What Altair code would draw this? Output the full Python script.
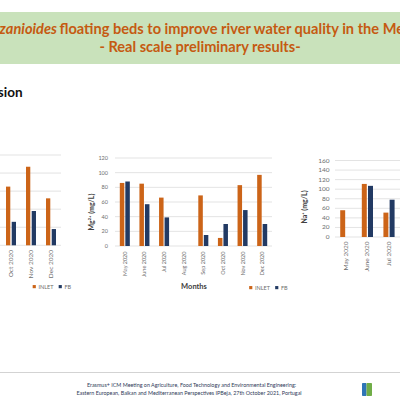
import altair as alt
import pandas as pd

FONT = "Lato"
ORANGE = "#cc6418"
NAVY = "#223a63"
GRID = "#d9d9d9"
TICK = "#6e6e6e"
DARK = "#404040"
BAND = "#c9e2bb"
HEAD = "#c55a11"

months = ["May 2020", "June 2020", "Jul 2020", "Aug 2020",
          "Sep 2020", "Oct 2020", "Nov 2020", "Dec 2020"]
series = ["INLET", "FB"]

# left panel: the last three months are the ones in view
left_months = ["Oct 2020", "Nov 2020", "Dec 2020"]
left_inlet = [32.5, 43.5, 26.0]
left_fb = [13.0, 19.0, 9.0]
left_ticks = [0, 10, 20, 30, 40, 50]

# Mg2+ (mg/L)
mg_inlet = [86, 85, 66, None, 69, 11, 83, 97]
mg_fb = [88, 57, 39, None, 15, 30, 49, 30]
mg_ticks = [0, 20, 40, 60, 80, 100, 120]

# Na+ (mg/L)
na_months = ["May 2020", "June 2020", "Jul 2020"]
na_inlet = [56, 111, 51]
na_fb = [None, 107, 78]
na_ticks = [0, 20, 40, 60, 80, 100, 120, 140, 160]


def one_row():
    return pd.DataFrame({"k": [0]})


def series_rows(cats, inlet, fb):
    rows = []
    for m, a, b in zip(cats, inlet, fb):
        for s, v in (("INLET", a), ("FB", b)):
            if v is not None:
                rows.append({"month": m, "series": s, "value": v})
    return pd.DataFrame(rows)


def label(text, x, y, size, weight="normal", color=DARK, align="center",
          baseline="alphabetic", angle=0, style="normal"):
    return alt.Chart(pd.DataFrame({"t": [text]})).mark_text(
        font=FONT, fontSize=size, fontWeight=weight, color=color, align=align,
        baseline=baseline, angle=angle, fontStyle=style
    ).encode(x=alt.value(x), y=alt.value(y), text="t:N")


def panel(cats, inlet, fb, ticks, x_range, y_range, tick_size, label_top,
          pair_pad, legend, ylab_x=None):
    xs = alt.Scale(type="band", domain=months, range=x_range,
                   paddingInner=0, paddingOuter=0)
    ys = alt.Scale(domain=[0, ticks[-1]], range=y_range, nice=False)

    grid = alt.Chart(pd.DataFrame({"v": ticks, "first": months[0], "last": months[-1]})).mark_rule(
        color=GRID, strokeWidth=0.75
    ).encode(
        x=alt.X("first:N", scale=xs, axis=None, bandPosition=0),
        x2=alt.X2("last", bandPosition=1),
        y=alt.Y("v:Q", scale=ys, axis=None),
    )

    bars = alt.Chart(series_rows(cats, inlet, fb)).mark_bar().encode(
        x=alt.X("month:N", scale=xs, axis=None),
        xOffset=alt.XOffset("series:N", scale=alt.Scale(
            domain=series, paddingInner=pair_pad[0], paddingOuter=pair_pad[1])),
        y=alt.Y("value:Q", scale=ys, axis=None),
        color=alt.Color("series:N", scale=alt.Scale(domain=series, range=[ORANGE, NAVY]),
                        legend=legend),
    )

    xlab = alt.Chart(pd.DataFrame({"month": cats})).mark_text(
        angle=270, align="right", baseline="middle", font=FONT,
        fontSize=tick_size, color=TICK
    ).encode(
        x=alt.X("month:N", scale=xs, axis=None),
        y=alt.value(label_top),
        text="month:N",
    )

    layers = [grid, bars, xlab]
    if ylab_x is not None:
        ylab = alt.Chart(pd.DataFrame({"v": ticks})).mark_text(
            align="right", baseline="middle", font=FONT, fontSize=tick_size, color=TICK
        ).encode(
            x=alt.value(ylab_x),
            y=alt.Y("v:Q", scale=ys, axis=None),
            text="v:Q",
        )
        layers.append(ylab)
    return alt.layer(*layers)


def legend_at(x, y, size):
    return alt.Legend(
        orient="none", legendX=x, legendY=y, direction="horizontal", title=None,
        symbolType="square", symbolSize=10, symbolStrokeWidth=0,
        labelFont=FONT, labelFontSize=size, labelColor=TICK,
        padding=0, columnPadding=4, labelOffset=1.5, symbolOffset=0,
    )


left_panel = panel(left_months, left_inlet, left_fb, left_ticks,
                   x_range=[-99, 61], y_range=[245.3, 155], tick_size=6.5,
                   label_top=250, pair_pad=(0.25, 0.88),
                   legend=legend_at(31.5, 283.5, 5.5))

mg_panel = panel(months, mg_inlet, mg_fb, mg_ticks,
                 x_range=[115, 272], y_range=[246, 158], tick_size=5.5,
                 label_top=251.5, pair_pad=(0.18, 0.87),
                 legend=legend_at(248, 284.5, 5.5), ylab_x=108)

na_panel = panel(na_months, na_inlet, na_fb, na_ticks,
                 x_range=[335, 507.8], y_range=[237, 160.5], tick_size=6.5,
                 label_top=241.5, pair_pad=(0.2, 0.84),
                 legend=None, ylab_x=329.5)

# slide header
header_band = alt.Chart(one_row()).mark_rect(color=BAND).encode(
    x=alt.value(0), x2=alt.value(400), y=alt.value(12), y2=alt.value(64))
head_italic = label("Chrysopogon zizanioides", 57, 33.5, 14.6, weight="bold",
                    color=HEAD, align="right", style="italic")
head_rest = label("floating beds to improve river water quality in the Mediterranean region",
                  59.5, 33.5, 14.6, weight="bold", color=HEAD, align="left")
head_sub = label("- Real scale preliminary results-", 200, 51.5, 14.6, weight="bold", color=HEAD)
section = label("Results and discussion", 22.5, 97, 13.5, weight="bold", color="#111111",
                align="right")

# axis titles
mg_title = label("Mg\u00b2\u207a (mg/L)", 92, 212, 7, weight="bold", angle=270,
                 baseline="middle")
na_title = label("Na\u207a (mg/L)", 305, 207, 7, weight="bold", angle=270,
                 baseline="middle")
months_title = label("Months", 194, 289, 7.5, weight="bold")

# footer
footer_rule = alt.Chart(one_row()).mark_rule(color="#c8c8c8", strokeWidth=0.8).encode(
    x=alt.value(0), x2=alt.value(400), y=alt.value(372.5))
foot1 = label("Erasmus+ ICM Meeting on Agriculture, Food Technology and Environmental Engineering:",
              191.5, 387, 5.4, color="#2f3b59")
foot2 = label("Eastern European, Balkan and Mediterranean Perspectives      IPBeja, 27th October 2021, Portugal",
              189, 394.5, 5.4, color="#2f3b59")
logo_a = alt.Chart(one_row()).mark_rect(color="#2e75b6", cornerRadius=1).encode(
    x=alt.value(362), x2=alt.value(366.5), y=alt.value(383), y2=alt.value(396))
logo_b = alt.Chart(one_row()).mark_rect(color="#70ad47", cornerRadius=1).encode(
    x=alt.value(366.5), x2=alt.value(372), y=alt.value(383), y2=alt.value(396))

chart = alt.layer(
    header_band, head_italic, head_rest, head_sub, section,
    left_panel, mg_panel, na_panel,
    mg_title, na_title, months_title,
    footer_rule, foot1, foot2, logo_a, logo_b,
).resolve_scale(
    x="independent", y="independent", xOffset="independent", color="independent"
).properties(
    width=400, height=400, padding=0, autosize="none", background="white"
).configure_view(stroke=None)

chart.save("out.html", embed_options={"renderer": "svg", "actions": False})
